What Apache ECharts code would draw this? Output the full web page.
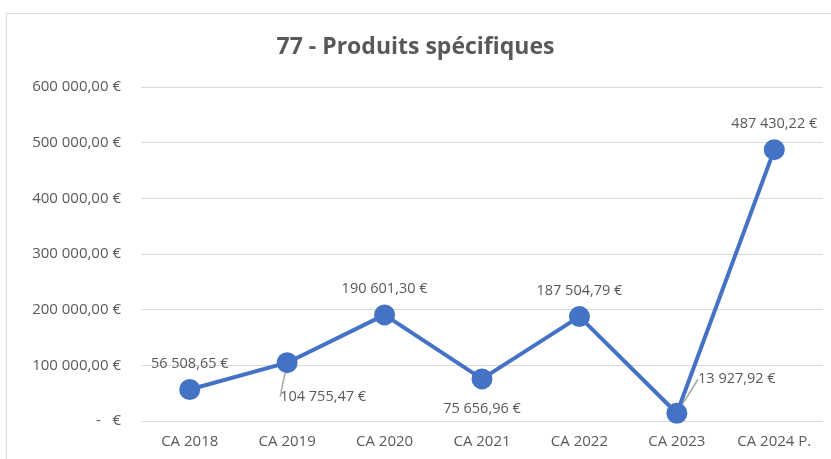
<!DOCTYPE html>
<html>
<head>
<meta charset="utf-8">
<script src="https://cdn.jsdelivr.net/npm/echarts@6/dist/echarts.min.js"></script>
<style>
  html, body { margin: 0; padding: 0; background: #fff; }
  #chart { width: 831px; height: 459px; }
</style>
</head>
<body>
<div id="chart"></div>
<script>
const categories = ['CA 2018', 'CA 2019', 'CA 2020', 'CA 2021', 'CA 2022', 'CA 2023', 'CA 2024 P.'];
const values = [56508.65, 104755.47, 190601.30, 75656.96, 187504.79, 13927.92, 487430.22];

const textColor = '#595959';
const blue = '#4472C4';

const fmtEuro = (v, dec) => {
  const parts = v.toFixed(dec).split('.');
  const int = parts[0].replace(/\B(?=(\d{3})+(?!\d))/g, ' ');
  return int + (dec ? ',' + parts[1] : '') + ' €';
};

// where each data label sits (relative to default "top" spot)
const labelShift = {
  1: { dx: 36, dy: 60, line: true },
  3: { dx: 0, dy: 56 },
  5: { dx: 60, dy: -8, line: true },
};

const chart = echarts.init(document.getElementById('chart'));

chart.setOption({
  backgroundColor: '#fff',
  textStyle: { fontFamily: 'Open Sans, Noto Sans, sans-serif' },
  title: {
    text: '77 - Produits spécifiques',
    left: 'center',
    top: 31,
    textStyle: { color: textColor, fontSize: 23, fontWeight: 'bold' },
  },
  graphic: [{
    type: 'rect',
    shape: { x: 6.5, y: 13.5, width: 900, height: 500 },
    style: { fill: 'none', stroke: '#d9d9d9', lineWidth: 1 },
    silent: true,
  }],
  grid: { left: 141, right: 8, top: 87, bottom: 38 },
  xAxis: {
    type: 'category',
    data: categories,
    axisLine: { show: false },
    axisTick: { show: false },
    axisLabel: { color: textColor, fontSize: 15, margin: 13 },
  },
  yAxis: {
    type: 'value',
    min: 0,
    max: 600000,
    interval: 100000,
    axisLine: { show: false },
    axisTick: { show: false },
    splitLine: { lineStyle: { color: '#d9d9d9', width: 1 } },
    axisLabel: {
      color: textColor,
      fontSize: 15,
      margin: 20,
      formatter: v => (v === 0 ? '-   €' : fmtEuro(v, 2)),
    },
  },
  series: [{
    type: 'line',
    data: values.map((v, i) => ({
      value: v,
      labelLine: { show: !!(labelShift[i] && labelShift[i].line) },
    })),
    symbol: 'circle',
    symbolSize: 21,
    lineStyle: { color: blue, width: 4 },
    itemStyle: { color: blue },
    label: {
      show: true,
      position: 'top',
      distance: 8,
      color: textColor,
      fontSize: 14.5,
      formatter: p => fmtEuro(p.value, 2),
    },
    labelLine: {
      lineStyle: { color: '#a6a6a6', width: 1.5 },
    },
    labelLayout: p => {
      const s = labelShift[p.dataIndex];
      return s ? { dx: s.dx, dy: s.dy } : {};
    },
  }],
});
</script>
</body>
</html>
